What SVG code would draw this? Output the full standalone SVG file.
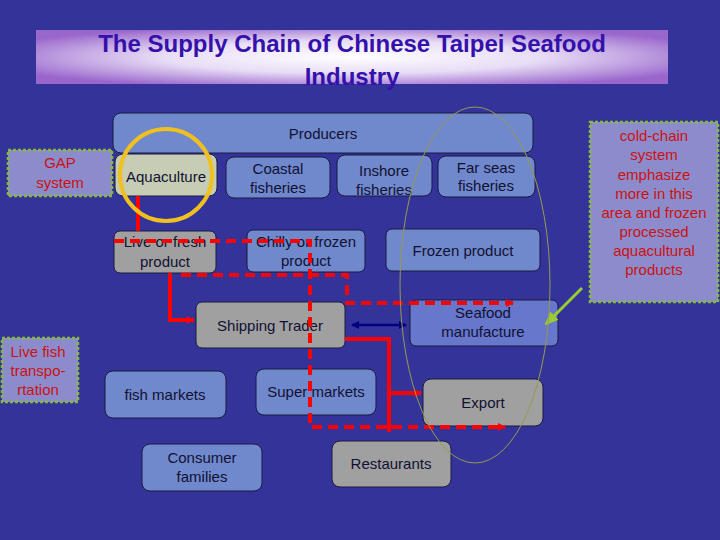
<svg xmlns="http://www.w3.org/2000/svg" width="720" height="540" viewBox="0 0 720 540">
<defs>
<radialGradient id="tg" cx="0.5" cy="0.5" r="0.6"><stop offset="0" stop-color="#ffffff"/><stop offset="0.5" stop-color="#e8ddf6"/><stop offset="1" stop-color="#9966cc"/></radialGradient>
<marker id="ar" markerWidth="8" markerHeight="8" refX="7" refY="4" orient="auto" markerUnits="userSpaceOnUse"><path d="M0,0 L8,4 L0,8 z" fill="#ff0000"/></marker>
<marker id="nb" markerWidth="8" markerHeight="8" refX="7" refY="4" orient="auto-start-reverse" markerUnits="userSpaceOnUse"><path d="M0,0 L8,4 L0,8 z" fill="#000080"/></marker>
<marker id="ga" markerWidth="14" markerHeight="12" refX="12" refY="6" orient="auto" markerUnits="userSpaceOnUse"><path d="M0,0 L14,6 L0,12 z" fill="#99cc33"/></marker>
<style>
text{font-family:"Liberation Sans",Arial,sans-serif;font-size:15px;fill:#111133;text-anchor:middle}
.b{fill:#7088cc;stroke:#1a1a40;stroke-width:1}
.g{fill:#a0a0a0;stroke:#1a1a40;stroke-width:1}
.n rect{fill:#8c8ccc;stroke:#88bb33;stroke-width:2.5;stroke-dasharray:3 2}
.n text{fill:#cc1111}
.r{stroke:#ff0000;stroke-width:4;fill:none}
.d{stroke:#ff0000;stroke-width:4;fill:none;stroke-dasharray:10 6}
</style>
</defs>
<rect width="720" height="540" fill="#333399"/>
<g id="title"><rect x="36" y="30" width="632" height="54" fill="url(#tg)"/>
<text x="352" y="52" style="font-size:24px;font-weight:bold;fill:#3311aa">The Supply Chain of Chinese Taipei Seafood</text>
<text x="352" y="85" style="font-size:24px;font-weight:bold;fill:#3311aa">Industry</text></g>
<g id="producers"><rect class="b" x="113" y="113" width="420" height="40" rx="8"/><text x="323" y="139">Producers</text></g>
<g id="aquaculture"><rect x="115" y="154" width="102" height="42" rx="8" fill="#c6cdb4" stroke="#1a1a40"/><text x="166" y="182">Aquaculture</text></g>
<g id="coastal"><rect class="b" x="226" y="157" width="104" height="41" rx="8"/><text x="278" y="174">Coastal</text><text x="278" y="193">fisheries</text></g>
<g id="inshore"><rect class="b" x="337" y="155" width="95" height="41" rx="8"/><text x="384" y="176">Inshore</text><text x="384" y="195">fisheries</text></g>
<g id="farseas"><rect class="b" x="438" y="156" width="97" height="41" rx="8"/><text x="486" y="173">Far seas</text><text x="486" y="191">fisheries</text></g>
<g id="live"><rect class="g" x="114" y="231" width="102" height="42" rx="6"/><text x="165" y="247">Live or fresh</text><text x="165" y="267">product</text></g>
<g id="chilly"><rect class="b" x="247" y="230" width="118" height="42" rx="6"/><text x="306" y="247">Chilly or frozen</text><text x="306" y="266">product</text></g>
<g id="frozen"><rect class="b" x="386" y="229" width="154" height="42" rx="6"/><text x="463" y="256">Frozen product</text></g>
<g id="shipping"><rect class="g" x="196" y="302" width="149" height="46" rx="6"/><text x="270" y="331">Shipping Trader</text></g>
<g id="manufacture"><rect x="410" y="300" width="148" height="46" rx="6" fill="#6677cc" stroke="#1a1a40"/><text x="483" y="318">Seafood</text><text x="483" y="337">manufacture</text></g>
<g id="fishmarkets"><rect class="b" x="105" y="371" width="121" height="47" rx="8"/><text x="165" y="400">fish markets</text></g>
<g id="supermarkets"><rect class="b" x="256" y="369" width="120" height="46" rx="8"/><text x="316" y="397">Super markets</text></g>
<g id="export"><rect class="g" x="423" y="379" width="120" height="47" rx="8"/><text x="483" y="408">Export</text></g>
<g id="consumer"><rect class="b" x="142" y="444" width="120" height="47" rx="8"/><text x="202" y="463">Consumer</text><text x="202" y="482">families</text></g>
<g id="restaurants"><rect class="g" x="332" y="441" width="119" height="46" rx="8"/><text x="391" y="469">Restaurants</text></g>
<g id="gap" class="n"><rect x="8" y="150" width="104" height="46"/><text x="60" y="168">GAP</text><text x="60" y="188">system</text></g>
<g id="livefish" class="n"><rect x="2" y="338" width="76" height="64"/><text x="38" y="357">Live fish</text><text x="38" y="376">transpo-</text><text x="38" y="395">rtation</text></g>
<g id="coldchain" class="n"><rect x="590" y="122" width="128" height="180"/>
<text x="654" y="141">cold-chain</text><text x="654" y="160">system</text><text x="654" y="180">emphasize</text><text x="654" y="199">more in this</text><text x="654" y="218">area and frozen</text><text x="654" y="237">processed</text><text x="654" y="256">aquacultural</text><text x="654" y="275">products</text></g>
<g id="connectors">
<path class="r" d="M138,196 V231"/>
<path class="r" d="M170,273 V320 H194" marker-end="url(#ar)"/>
<path class="r" d="M345,339 H389 V432" marker-end="url(#ar)"/>
<path class="r" d="M389,393 H421" marker-end="url(#ar)"/>
<path class="d" d="M114,241 H310 V427 H505" marker-end="url(#ar)"/>
<path class="d" d="M181,275 H347 V303 H513" marker-end="url(#ar)"/>
<path d="M352,325 H406" stroke="#000080" stroke-width="2.5" marker-start="url(#nb)" marker-end="url(#nb)"/>
<path d="M582,288 L546,324" stroke="#99cc33" stroke-width="3" marker-end="url(#ga)"/>
<ellipse cx="166" cy="175" rx="46" ry="46" fill="none" stroke="#f0c020" stroke-width="4"/>
<ellipse cx="475" cy="285" rx="75" ry="178" fill="none" stroke="#99994d" stroke-width="1"/>
</g>
</svg>
